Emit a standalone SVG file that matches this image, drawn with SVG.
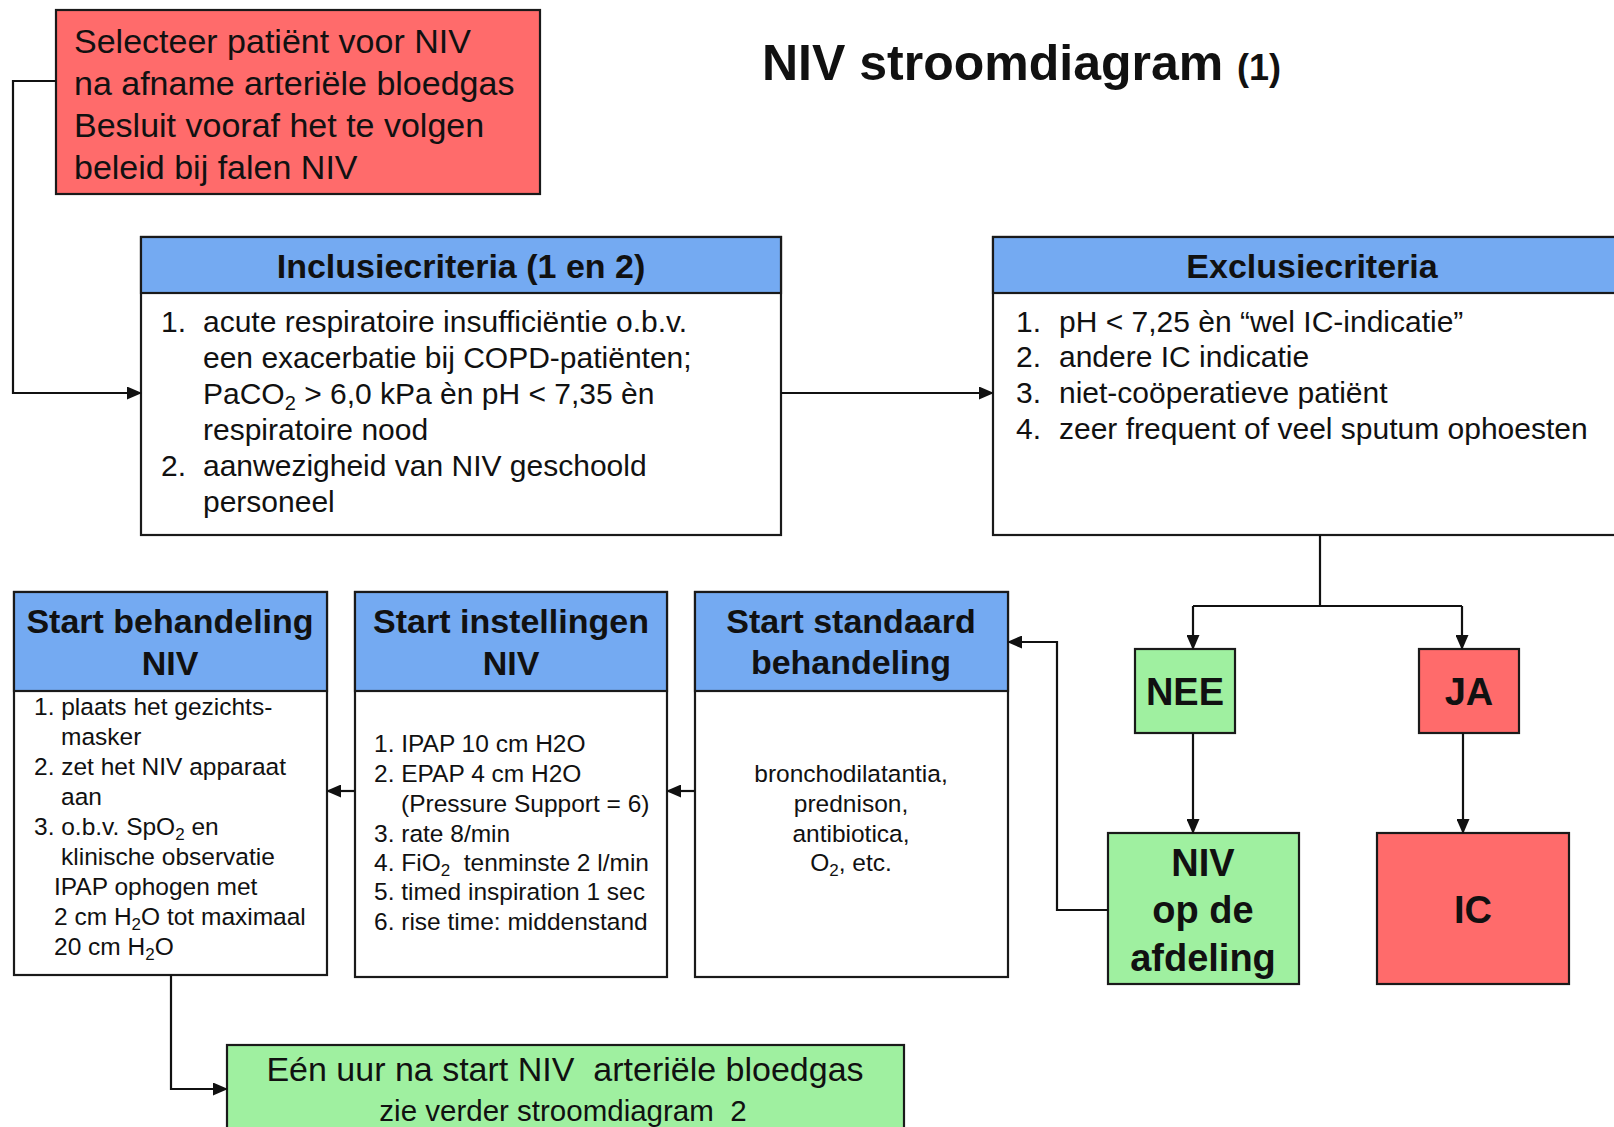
<svg xmlns="http://www.w3.org/2000/svg" width="1614" height="1127" viewBox="0 0 1614 1127">
<defs>
<marker id="ah" markerUnits="userSpaceOnUse" markerWidth="15" markerHeight="13" refX="14" refY="6.5" orient="auto">
<path d="M0,0 L15,6.5 L0,13 z" fill="#111"/>
</marker>
<style>
text{font-family:"Liberation Sans",Arial,sans-serif;fill:#111}
.box{stroke:#1a1a1a;stroke-width:2.2}
.red{fill:#FF6B6B}
.blue{fill:#74AAF2}
.green{fill:#9FF0A0}
.white{fill:#fff}
.hd{font-weight:bold;font-size:34px;text-anchor:middle}
.body{font-size:30px}
.sm{font-size:24.5px}
.big{font-weight:bold;font-size:38px;text-anchor:middle}
.con{fill:none;stroke:#111;stroke-width:2.2}
</style>
</defs>
<rect width="1614" height="1127" fill="#fff"/>

<text x="762" y="80" font-weight="bold" font-size="50">NIV stroomdiagram <tspan font-size="36">(1)</tspan></text>

<g id="select">
<rect class="box red" x="56" y="10" width="484" height="184"/>
<text font-size="34" x="74" y="53">Selecteer patiënt voor NIV</text>
<text font-size="34" x="74" y="95">na afname arteriële bloedgas</text>
<text font-size="34" x="74" y="137">Besluit vooraf het te volgen</text>
<text font-size="34" x="74" y="179">beleid bij falen NIV</text>
</g>

<g id="inclusie">
<rect class="box white" x="141" y="237" width="640" height="298"/>
<rect class="box blue" x="141" y="237" width="640" height="56"/>
<text class="hd" x="461" y="278">Inclusiecriteria (1 en 2)</text>
<g class="body">
<text x="161" y="332">1.</text><text x="203" y="332">acute respiratoire insufficiëntie o.b.v.</text>
<text x="203" y="368">een exacerbatie bij COPD-patiënten;</text>
<text x="203" y="404">PaCO<tspan font-size="20" dy="6">2</tspan><tspan dy="-6"> &gt; 6,0 kPa èn pH &lt; 7,35 èn</tspan></text>
<text x="203" y="440">respiratoire nood</text>
<text x="161" y="476">2.</text><text x="203" y="476">aanwezigheid van NIV geschoold</text>
<text x="203" y="512">personeel</text>
</g>
</g>

<g id="exclusie">
<rect class="box white" x="993" y="237" width="640" height="298"/>
<rect class="box blue" x="993" y="237" width="640" height="56"/>
<text class="hd" x="1312" y="278">Exclusiecriteria</text>
<g class="body">
<text x="1016" y="332">1.</text><text x="1059" y="332">pH &lt; 7,25 èn “wel IC-indicatie”</text>
<text x="1016" y="367">2.</text><text x="1059" y="367">andere IC indicatie</text>
<text x="1016" y="403">3.</text><text x="1059" y="403">niet-coöperatieve patiënt</text>
<text x="1016" y="439">4.</text><text x="1059" y="439">zeer frequent of veel sputum ophoesten</text>
</g>
</g>

<g id="nee">
<rect class="box green" x="1135" y="649" width="100" height="84"/>
<text class="big" x="1185" y="705" font-size="36">NEE</text>
</g>

<g id="ja">
<rect class="box red" x="1419" y="649" width="100" height="84"/>
<text class="big" x="1469" y="705" font-size="36">JA</text>
</g>

<g id="niv-afdeling">
<rect class="box green" x="1108" y="833" width="191" height="151"/>
<text class="big" x="1203" y="876">NIV</text>
<text class="big" x="1203" y="923">op de</text>
<text class="big" x="1203" y="971">afdeling</text>
</g>

<g id="ic">
<rect class="box red" x="1377" y="833" width="192" height="151"/>
<text class="big" x="1473" y="923">IC</text>
</g>

<g id="standaard">
<rect class="box white" x="695" y="592" width="313" height="385"/>
<rect class="box blue" x="695" y="592" width="313" height="99"/>
<text class="hd" x="851" y="633">Start standaard</text>
<text class="hd" x="851" y="674">behandeling</text>
<g class="sm" text-anchor="middle">
<text x="851" y="782">bronchodilatantia,</text>
<text x="851" y="812">prednison,</text>
<text x="851" y="842">antibiotica,</text>
<text x="851" y="871">O<tspan font-size="17" dy="5">2</tspan><tspan dy="-5">, etc.</tspan></text>
</g>
</g>

<g id="instellingen">
<rect class="box white" x="355" y="592" width="312" height="385"/>
<rect class="box blue" x="355" y="592" width="312" height="99"/>
<text class="hd" x="511" y="633">Start instellingen</text>
<text class="hd" x="511" y="675">NIV</text>
<g class="sm">
<text x="374" y="752">1. IPAP 10 cm H2O</text>
<text x="374" y="782">2. EPAP 4 cm H2O</text>
<text x="401" y="812">(Pressure Support = 6)</text>
<text x="374" y="842">3. rate 8/min</text>
<text x="374" y="871">4. FiO<tspan font-size="17" dy="5">2</tspan><tspan dy="-5">&#160; tenminste 2 l/min</tspan></text>
<text x="374" y="900">5. timed inspiration 1 sec</text>
<text x="374" y="930">6. rise time: middenstand</text>
</g>
</g>

<g id="behandeling">
<rect class="box white" x="14" y="592" width="313" height="383"/>
<rect class="box blue" x="14" y="592" width="313" height="99"/>
<text class="hd" x="170" y="633">Start behandeling</text>
<text class="hd" x="170" y="675">NIV</text>
<g class="sm">
<text x="34" y="715">1. plaats het gezichts-</text>
<text x="61" y="745">masker</text>
<text x="34" y="775">2. zet het NIV apparaat</text>
<text x="61" y="805">aan</text>
<text x="34" y="835">3. o.b.v. SpO<tspan font-size="17" dy="5">2</tspan><tspan dy="-5"> en</tspan></text>
<text x="61" y="865">klinische observatie</text>
<text x="54" y="895">IPAP ophogen met</text>
<text x="54" y="925">2 cm H<tspan font-size="17" dy="5">2</tspan><tspan dy="-5">O tot maximaal</tspan></text>
<text x="54" y="955">20 cm H<tspan font-size="17" dy="5">2</tspan><tspan dy="-5">O</tspan></text>
</g>
</g>

<g id="bloedgas">
<rect class="box green" x="227" y="1045" width="677" height="100"/>
<text x="565" y="1081" font-size="34" text-anchor="middle">Eén uur na start NIV&#160; arteriële bloedgas</text>
<text x="563" y="1121" font-size="29.5" text-anchor="middle">zie verder stroomdiagram&#160; 2</text>
</g>

<g id="connectors">
<path class="con" d="M56,81 H13 V393 H141" marker-end="url(#ah)"/>
<path class="con" d="M781,393 H993" marker-end="url(#ah)"/>
<path class="con" d="M1320,535 V606"/>
<path class="con" d="M1193,606 H1462"/>
<path class="con" d="M1193,606 V649" marker-end="url(#ah)"/>
<path class="con" d="M1462,606 V649" marker-end="url(#ah)"/>
<path class="con" d="M1193,733 V833" marker-end="url(#ah)"/>
<path class="con" d="M1463,733 V833" marker-end="url(#ah)"/>
<path class="con" d="M1108,910 H1057 V642 H1008" marker-end="url(#ah)"/>
<path class="con" d="M695,791 H667" marker-end="url(#ah)"/>
<path class="con" d="M355,791 H327" marker-end="url(#ah)"/>
<path class="con" d="M171,975 V1089 H227" marker-end="url(#ah)"/>
</g>
</svg>
